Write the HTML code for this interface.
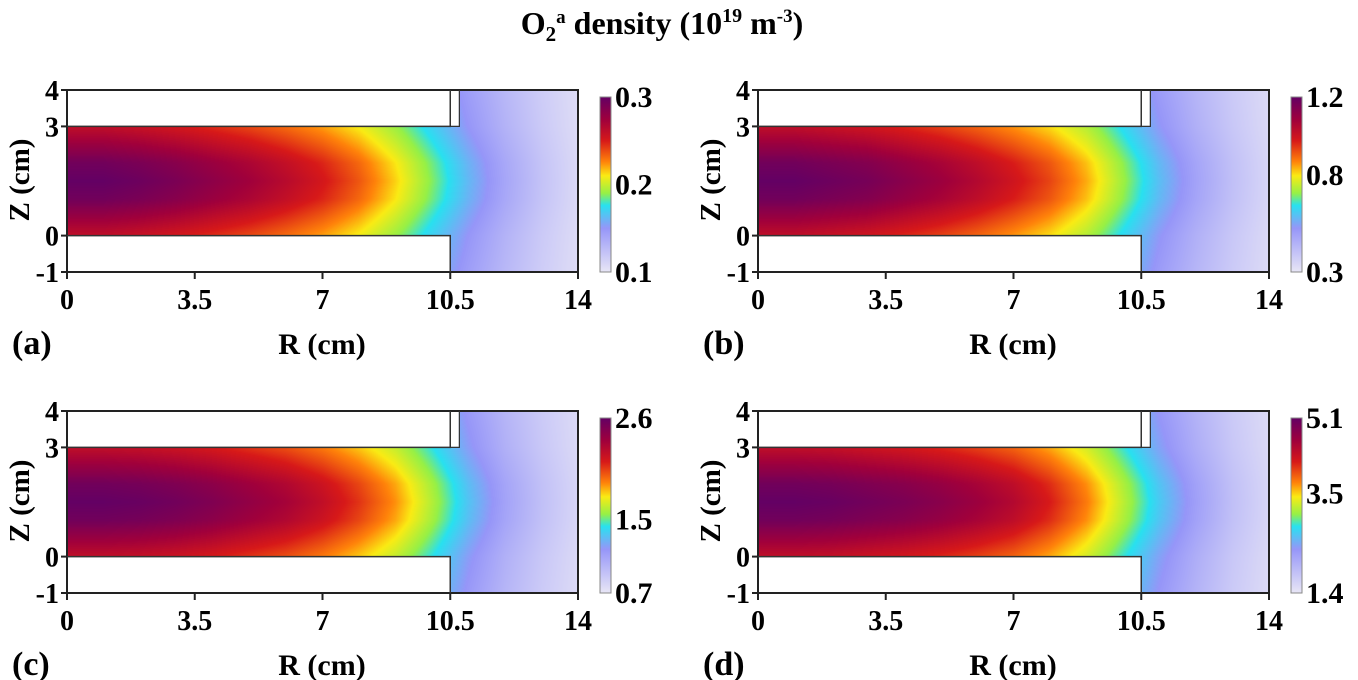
<!DOCTYPE html>
<html><head><meta charset="utf-8"><style>
body{margin:0;background:#fff;width:1358px;height:680px;overflow:hidden;position:relative;font-family:"Liberation Serif",serif;font-weight:bold}
canvas{position:absolute}
svg{position:absolute;left:0;top:0}
</style></head><body>
<div id="wrap"></div>
<script>
// ---- data ----
const rGrid = [0,1,2,3,4,5,6,7,8,9,10,11,12,13,14];
const radialA = [1.0,1.0,0.98,0.95,0.91,0.87,0.82,0.76,0.68,0.57,0.44,0.31,0.2,0.11,0.04];
const radialB = [1.0,1.0,0.98,0.96,0.92,0.88,0.83,0.77,0.7,0.6,0.46,0.32,0.21,0.12,0.05];
const radialC = [1.0,1.0,0.99,0.97,0.94,0.9,0.86,0.8,0.72,0.62,0.48,0.33,0.21,0.12,0.05];
const radialD = [1.0,1.0,0.99,0.97,0.95,0.92,0.88,0.83,0.75,0.64,0.49,0.34,0.22,0.12,0.05];
const zGrid = [-1,0,1,1.5,2,3,4];
const axial = [0.72,0.8,0.97,1.0,0.97,0.8,0.72];
const cbMax = [0.3,1.2,2.6,5.1];
const cbMid = [0.2,0.8,1.5,3.5];
const cbMin = [0.1,0.3,0.7,1.4];
const panelLabels = ["(a)","(b)","(c)","(d)"];
const xTicks = [0,3.5,7,10.5,14];
const yTicks = [4,3,0,-1];
// colormap stops (t, rgb)
const cmT = [0,0.25,0.38,0.45,0.55,0.63,0.75,0.87,1];
const cmC = [[232,230,246],[150,150,248],[40,225,240],[150,240,70],[250,235,20],[255,130,10],[215,25,25],[160,0,60],[100,0,100]];

function interp(xs,ys,x){if(x<=xs[0])return ys[0];for(let i=1;i<xs.length;i++){if(x<=xs[i]){const f=(x-xs[i-1])/(xs[i]-xs[i-1]);return ys[i-1]+f*(ys[i]-ys[i-1]);}}return ys[ys.length-1];}
function cmap(t){t=Math.max(0,Math.min(1,t));for(let i=1;i<cmT.length;i++){if(t<=cmT[i]){const f=(t-cmT[i-1])/(cmT[i]-cmT[i-1]);return cmC[i-1].map((c,k)=>c+f*(cmC[i][k]-c));}}return cmC[cmC.length-1];}

const radials=[radialA,radialB,radialC,radialD];
const panels=[{x0:67,y0:90},{x0:758,y0:90},{x0:67,y0:411},{x0:758,y0:411}];
const W=511,H=182;
const NS="http://www.w3.org/2000/svg";
const svg=document.createElementNS(NS,"svg");
svg.setAttribute("width",1358);svg.setAttribute("height",680);


function el(tag,attrs,txt){const e=document.createElementNS(NS,tag);for(const k in attrs)e.setAttribute(k,attrs[k]);if(txt!==undefined)e.textContent=txt;svg.appendChild(e);return e;}

panels.forEach((p,pi)=>{
  const sx=r=>p.x0+r/14*W, sy=z=>p.y0+(4-z)/5*H;
  const cv=document.createElement("canvas");
  cv.width=W;cv.height=H;cv.style.left=p.x0+"px";cv.style.top=p.y0+"px";
  
  
  document.body.appendChild(cv);
  const ctx=cv.getContext("2d");const img=ctx.createImageData(W,H);
  for(let j=0;j<H;j++){const z=4-(j+0.5)/H*5;const az=interp(zGrid,axial,z);
    for(let i=0;i<W;i++){const r=(i+0.5)/W*14;
      const inside=(r>=10.75)||(r>=10.5&&z<=3)||(z>=0&&z<=3);
      const o=(j*W+i)*4;
      if(!inside){img.data[o]=img.data[o+1]=img.data[o+2]=255;img.data[o+3]=255;continue;}
      const t=interp(rGrid,radials[pi],r)*az;const c=cmap(t);
      img.data[o]=c[0];img.data[o+1]=c[1];img.data[o+2]=c[2];img.data[o+3]=255;}}
  ctx.putImageData(img,0,0);
  el("rect",{x:p.x0,y:p.y0,width:W,height:H,fill:"none",stroke:"#222","stroke-width":2,});
  el("polyline",{points:`${sx(0)},${sy(3)} ${sx(10.5)},${sy(3)} ${sx(10.5)},${sy(4)}`,fill:"none",stroke:"#333","stroke-width":1.5,});
  el("polyline",{points:`${sx(10.5)},${sy(3)} ${sx(10.75)},${sy(3)} ${sx(10.75)},${sy(4)}`,fill:"none",stroke:"#333","stroke-width":1.2,});
  el("polyline",{points:`${sx(0)},${sy(0)} ${sx(10.5)},${sy(0)} ${sx(10.5)},${sy(-1)}`,fill:"none",stroke:"#333","stroke-width":1.5,});
  xTicks.forEach(v=>{el("line",{x1:sx(v),x2:sx(v),y1:sy(-1),y2:sy(-1)+7,stroke:"#222","stroke-width":2,});
    el("text",{x:sx(v),y:sy(-1)+37,"text-anchor":"middle","font-size":28,},String(v));});
  yTicks.forEach(v=>{el("line",{x1:p.x0-6,x2:p.x0,y1:sy(v),y2:sy(v),stroke:"#222","stroke-width":2,});
    el("text",{x:p.x0-8,y:sy(v)+10,"text-anchor":"end","font-size":28,},String(v));});
  el("text",{x:p.x0+255,y:p.y0+264,"text-anchor":"middle","font-size":30,},"R (cm)");
  el("text",{x:0,y:0,"text-anchor":"middle","font-size":29,transform:`translate(${p.x0-38},${p.y0+90}) rotate(-90)`,},"Z (cm)");
  el("text",{x:p.x0-55,y:p.y0+264,"font-size":34,},panelLabels[pi]);
  const cx=p.x0+533, cy0=p.y0+7, cy1=p.y0+182, ch=cy1-cy0;
  const gid="g"+pi;
  const defs=el("defs",{});
  const lg=document.createElementNS(NS,"linearGradient");lg.setAttribute("id",gid);lg.setAttribute("x1",0);lg.setAttribute("y1",1);lg.setAttribute("x2",0);lg.setAttribute("y2",0);
  cmT.forEach((t,k)=>{const s=document.createElementNS(NS,"stop");s.setAttribute("offset",t);s.setAttribute("stop-color",`rgb(${cmC[k].join(",")})`);lg.appendChild(s);});
  defs.appendChild(lg);
  el("rect",{x:cx,y:cy0,width:11,height:ch,fill:`url(#${gid})`,stroke:"#888","stroke-width":1,});
  const cyv=v=>cy1-(v-cbMin[pi])/(cbMax[pi]-cbMin[pi])*ch;
  [cbMax[pi],cbMid[pi],cbMin[pi]].forEach(v=>{
    el("text",{x:cx+15,y:cyv(v)+10,"font-size":30,},String(v));});
});
const t=el("text",{x:662,y:34,"text-anchor":"middle","font-size":32,});
t.innerHTML='O<tspan font-size="21" dy="7">2</tspan><tspan font-size="19" dy="-18">a</tspan><tspan dy="11"> density (10</tspan><tspan font-size="20" dy="-12">19</tspan><tspan dy="12"> m</tspan><tspan font-size="19" dy="-12">-3</tspan><tspan dy="12">)</tspan>';
document.body.appendChild(svg);
</script>
</body></html>
